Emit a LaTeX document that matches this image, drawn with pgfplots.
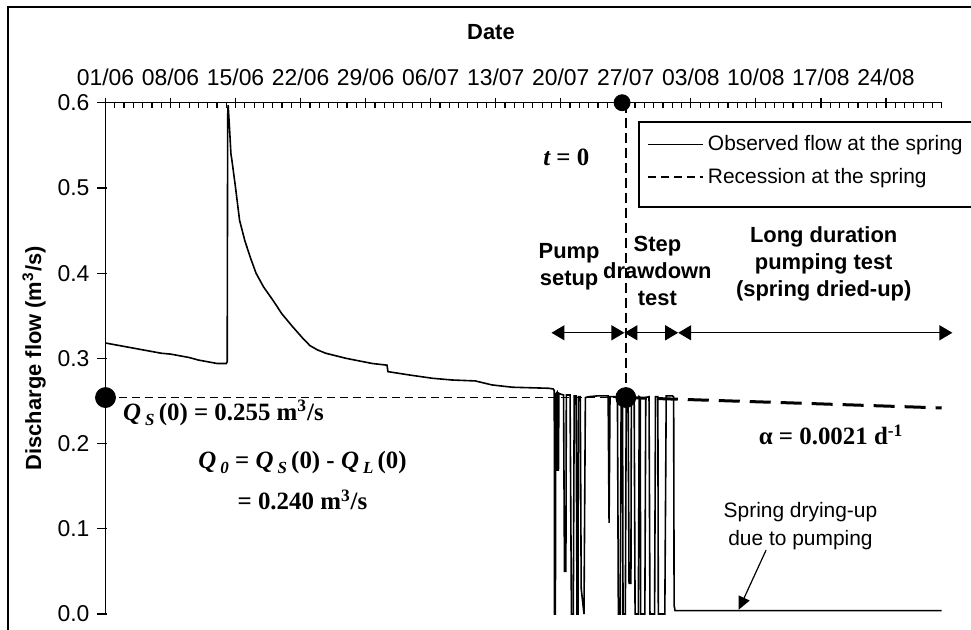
\documentclass[border=0pt]{standalone}
\usepackage{fontspec}
\setmainfont{Liberation Sans}
\newfontfamily\tnr{Liberation Serif}
\usepackage{pgfplots}
\pgfplotsset{compat=1.18}
\usetikzlibrary{arrows.meta}

% italic bold Q with a small subscript, as in the original annotations
\newcommand{\Qsub}[1]{{\itshape Q}\,\raisebox{-0.45ex}{\fontsize{8.5}{9}\selectfont\itshape #1}}
\newcommand{\fnt}{\fontsize{10.5}{12}\selectfont}
\newcommand{\tfnt}{\fontsize{11.5}{13}\selectfont}
\newcommand{\bfnt}{\fontsize{11}{13.5}\selectfont\bfseries}

\begin{document}
\begin{tikzpicture}
\useasboundingbox (0,0) rectangle (485.5bp,315bp);
\draw[line width=1.1bp] (4bp,-5bp) -- (4bp,311.5bp) -- (495bp,311.5bp);
\begin{axis}[
    at={(52.75bp,8bp)}, anchor=south west,
    scale only axis, width=418.1bp, height=255.65bp,
    xmin=0, xmax=90, ymin=0, ymax=0.6,
    axis x line=top, axis y line=left,
    axis line style={-, line width=0.7bp},
    clip=false,
    xtick={0,7,...,84},
    xticklabels={01/06,08/06,15/06,22/06,29/06,06/07,13/07,20/07,27/07,03/08,10/08,17/08,24/08},
    xticklabel style={yshift=2.5bp},
    minor xtick={0,1,...,90},
    ytick={0,0.1,0.2,0.3,0.4,0.5,0.6},
    yticklabel style={/pgf/number format/fixed, /pgf/number format/fixed zerofill,
        /pgf/number format/precision=1, xshift=-2bp},
    /pgf/number format/assume math mode=true,
    tick label style={font=\tfnt},
    tick align=center,
    major tick length=5bp, minor tick length=2.5bp,
    tick style={black, line width=0.6bp},
    every minor x tick/.append style={yshift=-1.25bp},
    every major y tick/.append style={xshift=-1.75bp},
    xlabel={Date},
    xlabel style={at={(axis description cs:0.461,1.138)}, anchor=center, font=\bfnt},
    ylabel={Discharge flow (m\textsuperscript{3}/s)},
    ylabel style={at={(axis description cs:-0.0855,0.5)}, anchor=center, font=\bfnt},
    legend image code/.code={\draw[#1] (0bp,0bp) -- (27.5bp,0bp);},
    legend cell align=left,
    legend style={at={(axis description cs:0.638,0.9628)}, anchor=north west,
        draw=none, fill=none, font=\fnt, inner xsep=4bp, inner ysep=4.5bp,
        row sep=3.5bp},
]
\addlegendimage{black, line width=0.6bp}
\addlegendentry{Observed flow at the spring}
\addlegendimage{black, line width=0.8bp, dash pattern=on 4bp off 2.5bp}
\addlegendentry{Recession at the spring}

% guide lines through t = 0
\addplot[forget plot, black, line width=0.7bp, dash pattern=on 4bp off 2.5bp]
    coordinates {(0,0.254) (56,0.254)};
\addplot[forget plot, black, line width=0.9bp, dash pattern=on 5bp off 2.5bp]
    coordinates {(56,0.6) (56,0.254)};
% recession at the spring
\addplot[forget plot, black, line width=1.5bp, dash pattern=on 10.5bp off 5bp]
    coordinates {(56,0.254) (73,0.2480) (90,0.2418)};

% observed flow at the spring
\addplot[forget plot, black, line width=0.8bp] coordinates {
(0,0.318) (1,0.316) (2,0.314) (3,0.312) (4,0.310) (5,0.308) (6,0.306) (7,0.305)
(8,0.303) (9,0.301) (10,0.298) (11,0.296) (12,0.294) (13,0.294) (13.1,0.296)
(13.15,0.585) (13.2,0.597) (13.35,0.57) (13.5,0.540) (13.6,0.533) (14.0,0.500)
(14.43,0.462) (15.0,0.438) (15.6,0.418) (16.2,0.400) (17.0,0.384) (18.0,0.3685)
(19.0,0.352) (20.15,0.337) (21.2,0.324) (22.0,0.315) (22.8,0.310) (23.7,0.306)
(25.9,0.300) (28.7,0.294) (30.3,0.292) (30.4,0.2844) (32.7,0.2805) (35.2,0.2766)
(37.3,0.2746) (39.8,0.2735) (41.6,0.2688) (43.8,0.2661) (47.7,0.2649) (48.2,0.264)
(48.3,0.262)
(48.33,0.0) (48.42,0.0) (48.47,0.258)
(48.6,0.26) (48.65,0.169) (48.75,0.169) (48.8,0.259)
(49.0,0.258) (49.3,0.257) (49.4,0.05) (49.55,0.05) (49.6,0.257)
(50.0,0.257) (50.15,0.0) (50.35,0.0) (50.45,0.256)
(50.65,0.256) (50.75,0.0) (50.85,0.0) (50.9,0.255)
(51.1,0.255) (51.2,0.03) (51.5,0.0) (51.65,0.254)
(52.0,0.255) (53.0,0.256) (54.1,0.256)
(54.2,0.107) (54.3,0.255)
(55.1,0.255) (55.2,0.0) (55.4,0.0) (55.5,0.255)
(55.65,0.255) (55.7,0.0) (55.95,0.0) (56.05,0.255)
(56.25,0.255) (56.35,0.036) (56.55,0.036) (56.6,0.255)
(56.9,0.255) (57.0,0.0) (57.35,0.0) (57.45,0.255)
(57.55,0.254) (57.6,0.0) (58.05,0.0) (58.15,0.254)
(58.5,0.255) (58.6,0.0) (59.1,0.0) (59.2,0.255)
(59.45,0.255) (59.5,0.0) (60.2,0.0) (60.35,0.256)
(60.7,0.256) (61.0,0.256) (61.15,0.255) (61.2,0.01) (61.3,0.004) (90,0.004)
};

% reference points
\addplot[forget plot, only marks, mark=*, mark size=5bp, black]
    coordinates {(0,0.254) (56,0.254)};
\addplot[forget plot, only marks, mark=*, mark size=4bp, black]
    coordinates {(55.6,0.6)};

% legend frame (taller than the entries, as in the original)
\draw[black, line width=0.8bp] (axis description cs:0.638,0.9628) rectangle (axis description cs:1.045,0.7966);

% phases of the test
\draw[black, line width=0.7bp, {Triangle[length=6.5bp,width=7.5bp]}-{Triangle[length=6.5bp,width=7.5bp]}]
    (axis cs:48,0.33) -- (axis cs:55.85,0.33);
\draw[black, line width=0.7bp, {Triangle[length=6.5bp,width=7.5bp]}-{Triangle[length=6.5bp,width=7.5bp]}]
    (axis cs:55.85,0.33) -- (axis cs:61.64,0.33);
\draw[black, line width=0.7bp, {Triangle[length=6.5bp,width=7.5bp]}-{Triangle[length=6.5bp,width=7.5bp]}]
    (axis cs:61.64,0.33) -- (axis cs:91.15,0.33);
\node[align=center, font=\bfnt] at (axis cs:49.9,0.408) {Pump\\setup};
\node[align=center, font=\bfnt] at (axis cs:59.4,0.403) {Step\\drawdown\\test};
\node[align=center, font=\bfnt] at (axis cs:77.3,0.411) {Long duration\\pumping test\\(spring dried-up)};

% annotations
\node[font=\tnr\bfseries\fontsize{12.5}{14}\selectfont] at (axis cs:49.6,0.536)
    {{\itshape t} = 0};
\node[anchor=west, inner sep=0pt, font=\tnr\bfseries\fontsize{12.5}{14}\selectfont] at (axis cs:1.85,0.236)
    {\Qsub{S}\,(0) = 0.255 m\textsuperscript{3}/s};
\node[font=\tnr\bfseries\fontsize{12.5}{14}\selectfont] at (axis cs:21.2,0.178)
    {\Qsub{0} = \Qsub{S}\,(0) - \Qsub{L}\,(0)};
\node[font=\tnr\bfseries\fontsize{12.5}{14}\selectfont] at (axis cs:21.2,0.134)
    {= 0.240 m\textsuperscript{3}/s};
\node[font=\tnr\bfseries\fontsize{12.5}{14}\selectfont] at (axis cs:78.1,0.210)
    {α = 0.0021 d\textsuperscript{-1}};
\node[align=center, font=\fontsize{10.5}{14.25}\selectfont] at (axis cs:74.8,0.103)
    {Spring drying-up\\due to pumping};
\draw[black, line width=0.6bp, -{Triangle[length=6.5bp,width=6bp]}]
    (axis cs:71.1,0.075) -- (axis cs:68.15,0.005);
\end{axis}
\end{tikzpicture}
\end{document}
